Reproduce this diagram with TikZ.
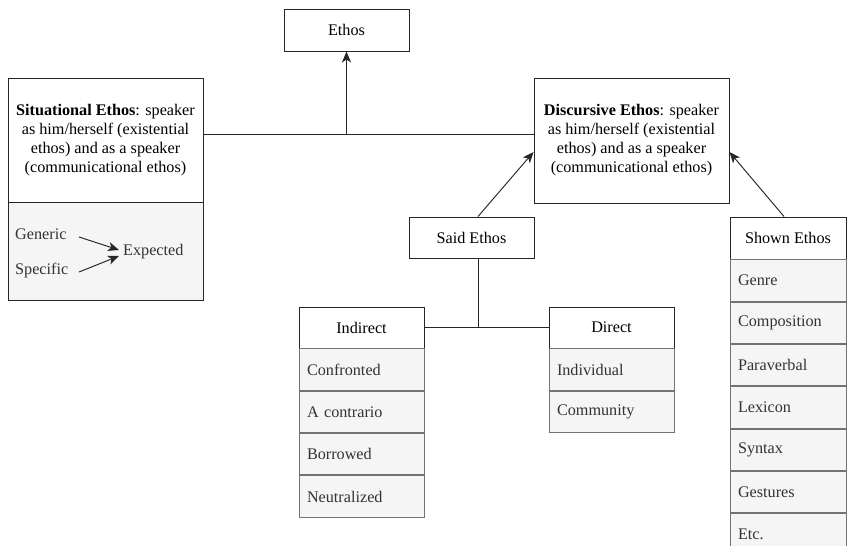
\documentclass[tikz,border=0pt]{standalone}
\usepackage{fontspec}
\setmainfont{Liberation Serif}
\usetikzlibrary{arrows.meta,calc}

\newcommand{\lbl}{\fontsize{16.2}{19}\selectfont}

\tikzset{
  box/.style={draw=black!85, fill=white, line width=0.95pt, inner sep=0pt,
    align=center, font=\lbl, text=black},
  cell/.style={draw=black!55, fill=black!4, line width=0.9pt, inner xsep=8pt,
    inner ysep=0pt, text width=#1, align=left, minimum height=41.4pt,
    anchor=north, font=\lbl, text=black!80},
  panel/.style={draw=black!85, fill=black!4, line width=0.95pt, inner sep=0pt},
  link/.style={draw=black!85, line width=0.95pt},
  arr/.style={link, -{Stealth[length=11pt,width=9pt,inset=3pt]}},
}

\begin{document}
\begin{tikzpicture}[x=1pt,y=-1pt]
\useasboundingbox (0,0) rectangle (847,546);
\clip (0,0) rectangle (847,546);

% top concept
\node[box, minimum width=125pt, minimum height=42pt] (ethos) at (346.5,30) {Ethos};

% situational ethos with its lower panel
\node[box, minimum width=195pt, minimum height=124pt] (sit) at (105.5,140)
  {\textbf{Situational Ethos}: speaker\\ as him/herself (existential\\ ethos) and as a speaker\\ (communicational ethos)};
\node[panel, minimum width=195pt, minimum height=98pt, anchor=north] (sitpanel) at (sit.south) {};
\node[font=\lbl, text=black!80, anchor=west, inner sep=0pt] (generic) at (15,234) {Generic};
\node[font=\lbl, text=black!80, anchor=west, inner sep=0pt] (specific) at (15,271) {Specific};
\node[font=\lbl, text=black!80, anchor=west, inner sep=0pt] (expected) at (123,252) {Expected};
\draw[arr] (79,237) -- (119,250);
\draw[arr] (79,272) -- (119,256);

% discursive ethos
\node[box, minimum width=195pt, minimum height=125pt] (disc) at (631.5,140.5)
  {\textbf{Discursive Ethos}: speaker\\ as him/herself (existential\\ ethos) and as a speaker\\ (communicational ethos)};

% join of the two ethos kinds
\coordinate (joinL) at ($(sit.east)+(0,-6)$);
\coordinate (joinR) at ($(disc.west)+(0,-6.5)$);
\draw[link] (joinL) -- (joinR);
\draw[arr] (ethos.south |- joinL) -- (ethos.south);

% said ethos
\node[box, minimum width=125pt, minimum height=41pt] (said) at (471.5,237.5) {Said Ethos};
\coordinate (saidx) at (478,0);
\draw[arr] (said.north -| saidx) -- ($(disc.west)+(0,11.5)$);

% indirect column
\node[box, minimum width=125pt, minimum height=41pt] (ind) at (361.5,327.5) {Indirect};
\node[cell=109pt] (i1) at (ind.south) {Confronted};
\node[cell=109pt] (i2) at (i1.south) {A contrario};
\node[cell=109pt] (i3) at (i2.south) {Borrowed};
\node[cell=109pt] (i4) at (i3.south) {Neutralized};

% direct column
\node[box, minimum width=125pt, minimum height=41pt] (dir) at (611.5,327.5) {Direct};
\node[cell=109pt] (d1) at (dir.south) {Individual};
\node[cell=109pt] (d2) at (d1.south) {Community};

\draw[link] (ind.east) -- (dir.west);
\draw[link] (said.south -| saidx) -- (ind.east -| saidx);

% shown ethos column
\node[box, minimum width=116pt, minimum height=42pt] (shown) at (788,238) {Shown Ethos};
\node[cell=100pt] (s1) at (shown.south) {Genre};
\node[cell=100pt] (s2) at (s1.south) {Composition};
\node[cell=100pt] (s3) at (s2.south) {Paraverbal};
\node[cell=100pt] (s4) at (s3.south) {Lexicon};
\node[cell=100pt] (s5) at (s4.south) {Syntax};
\node[cell=100pt] (s6) at (s5.south) {Gestures};
\node[cell=100pt] (s7) at (s6.south) {Etc.};
\draw[arr] (shown.north -| 784,0) -- ($(disc.east)+(0,11.5)$);
\end{tikzpicture}
\end{document}
